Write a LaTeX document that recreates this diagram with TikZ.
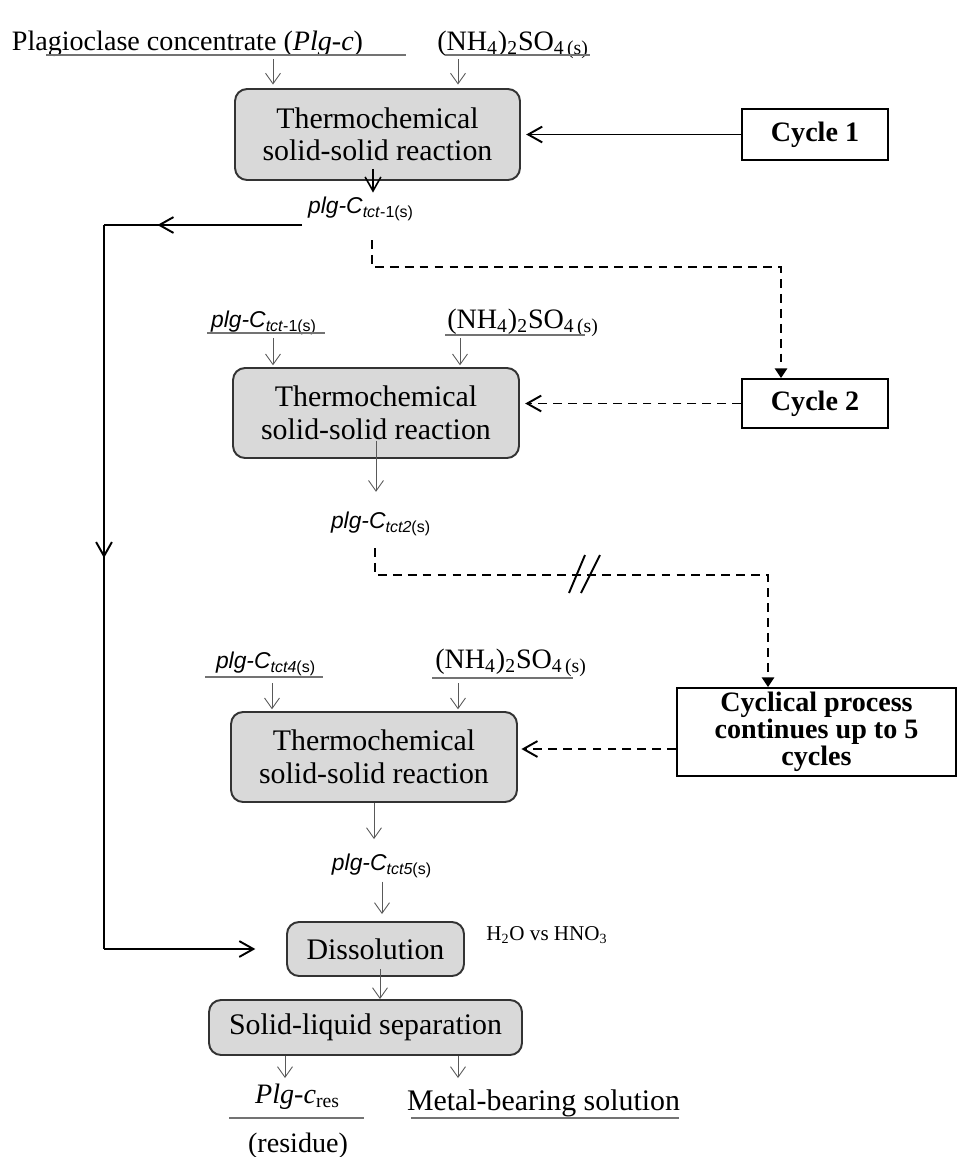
\documentclass[tikz,border=0pt]{standalone}
\usepackage{fontspec}
\setmainfont{Liberation Serif}
\setsansfont{Liberation Sans}
\usetikzlibrary{arrows.meta,calc,decorations.markings}

\newcommand{\boxfont}{\fontsize{17}{18.5}\selectfont}
\newcommand{\feedfont}{\fontsize{16}{18}\selectfont}
\newcommand{\plgc}[1]{\textsf{\textit{plg-C}\textsubscript{#1(s)}}}
\newcommand{\ams}{(NH\textsubscript{4})\textsubscript{2}SO\textsubscript{4\,(s)}}

\begin{document}
\begin{tikzpicture}[
        % one unit is one pixel of the reference
        x=0.02cm, y=-0.02cm,
        rxbox/.style={draw=black!80, line width=1.1pt, fill=black!15,
            rounded corners=0.24cm, align=center, font=\boxfont, inner sep=0pt},
        cyclebox/.style={draw, line width=1.1pt, fill=white, align=center,
            inner sep=0pt, font=\bfseries\fontsize{16}{15.5}\selectfont},
        feedlbl/.style={font=\feedfont, inner sep=2pt, anchor=base},
        prodlbl/.style={font=\fontsize{13}{15}\selectfont, inner sep=2pt, anchor=base},
        uline/.style={draw=black!55, line width=0.6pt},
        feed/.style={draw=black!65, line width=0.5pt, -{Straight Barb[length=6pt,width=8.5pt]}},
        boldarr/.style={line width=1.1pt, -{Straight Barb[length=8pt,width=9pt]}},
        dashline/.style={line width=1.1pt, dash pattern=on 5pt off 3.5pt},
        dasharr/.style={dashline, -{Straight Barb[length=8pt,width=9pt]}},
        droparr/.style={dashline, -{Triangle[length=5.5pt,width=7pt]}},
        midarrow/.style={postaction={decorate, decoration={markings,
            mark=at position #1 with {\arrow{Straight Barb[length=8pt,width=9pt]}}}}}
    ]
    \useasboundingbox (0,0) rectangle (958,1157);

    % reaction boxes
    \node[rxbox, minimum width=5.7cm, minimum height=1.82cm] (rx1) at (377.5,134.5)
        {Thermochemical\\solid-solid reaction};
    \node[rxbox, minimum width=5.72cm, minimum height=1.8cm] (rx2) at (376,413)
        {Thermochemical\\solid-solid reaction};
    \node[rxbox, minimum width=5.72cm, minimum height=1.8cm] (rx3) at (374,757)
        {Thermochemical\\solid-solid reaction};
    \node[rxbox, minimum width=3.54cm, minimum height=1.08cm] (diss) at (375.5,949) {Dissolution};
    \node[rxbox, minimum width=6.26cm, minimum height=1.1cm] (sep) at (365.5,1027.5)
        {Solid-liquid separation};

    % cycle boxes
    \node[cyclebox, minimum width=2.92cm, minimum height=1.02cm] (cyc1) at (815,134.5) {Cycle 1};
    \node[cyclebox, minimum width=2.92cm, minimum height=0.98cm] (cyc2) at (815,403.5) {Cycle 2};
    \node[cyclebox, minimum width=5.58cm, minimum height=1.76cm] (cyc3) at (816.5,732)
        {Cyclical process\\continues up to 5\\cycles};

    % feeds and products
    \node[feedlbl] (plgc) at (187.5,50) {Plagioclase concentrate (\textit{Plg-c})};
    \node[feedlbl] (ams1) at (513,50) {\ams};
    \node[prodlbl] (in2) at (264,327) {\plgc{\textit{tct}-1}};
    \node[feedlbl] (ams2) at (523,328) {\ams};
    \node[prodlbl] (in3) at (266,668) {\plgc{\textit{tct4}}};
    \node[feedlbl] (ams3) at (511,668) {\ams};
    \node[prodlbl] (p1) at (361,213) {\plgc{\textit{tct}-1}};
    \node[prodlbl] (p2) at (381,528) {\plgc{\textit{tct2}}};
    \node[prodlbl] (p5) at (382,870) {\plgc{\textit{tct5}}};
    \node[font=\fontsize{12}{14}\selectfont, inner sep=0pt, anchor=base west] (acid) at (486,940)
        {H\textsubscript{2}O vs HNO\textsubscript{3}};
    \node[feedlbl] (res) at (297.5,1103) {\textit{Plg-c}\textsubscript{res}};
    \node[feedlbl] (resname) at (298,1152) {(residue)};
    \node[feedlbl, font=\fontsize{17}{19}\selectfont] (sol) at (543.5,1110) {Metal-bearing solution};

    % underlines
    \draw[uline] (46,55) -- (406,55);
    \draw[uline] (445,55) -- (590,55);
    \draw[uline] (207,333) -- (325,333);
    \draw[uline] (445,335) -- (585,335);
    \draw[uline] (205,677) -- (323,677);
    \draw[uline] (432,678) -- (573,678);
    \draw[uline] (229,1118) -- (364,1118);
    \draw[uline] (411,1118) -- (679,1118);

    % feed arrows into the boxes
    \coordinate (f1a) at (273,59);
    \coordinate (f1b) at (458,59);
    \coordinate (f2a) at (273,338);
    \coordinate (f2b) at (460,338);
    \coordinate (f3a) at (272,683);
    \coordinate (f3b) at (458,683);
    \draw[feed, shorten >=2pt] (f1a) -- (f1a |- rx1.north);
    \draw[feed, shorten >=2pt] (f1b) -- (f1b |- rx1.north);
    \draw[feed, shorten >=1pt] (f2a) -- (f2a |- rx2.north);
    \draw[feed, shorten >=1pt] (f2b) -- (f2b |- rx2.north);
    \draw[feed, shorten >=1pt] (f3a) -- (f3a |- rx3.north);
    \draw[feed, shorten >=1pt] (f3b) -- (f3b |- rx3.north);

    % product arrows
    \coordinate (o1) at ($(rx1.south)+(-4.5,-12)$);
    \draw[boldarr, line width=0.9pt] (o1) -- (o1 |- p1.north);
    \coordinate (o2) at ($(rx2.south)+(0,-18)$);
    \draw[feed, shorten >=9pt] (o2) -- (o2 |- p2.north);
    \draw[feed, shorten >=6pt] (rx3.south) -- (rx3.south |- p5.north);
    \draw[feed, shorten >=4pt] (p5.south) -- (p5.south |- diss.north);
    \coordinate (o4) at ($(diss.south)+(4.5,-8)$);
    \draw[feed] (o4) -- (o4 |- sep.north);
    \coordinate (s1) at (285,1056);
    \coordinate (s2) at (458,1056);
    \draw[feed] (s1) -- ++(0,22);
    \draw[feed] (s2) -- ++(0,22);

    % cycles feeding the reactions
    \draw[boldarr, shorten >=3pt] (cyc1.west) -- (cyc1.west -| rx1.east);
    \draw[dasharr, shorten >=3pt] (cyc2.west) -- (cyc2.west -| rx2.east);
    \coordinate (c3in) at ($(cyc3.west)+(0,17)$);
    \draw[dasharr, shorten >=2pt] (c3in) -- (c3in -| rx3.east);

    % product handed to the next cycle
    \coordinate (d1a) at (372,240);
    \coordinate (d1b) at (781,267);
    \draw[droparr] (d1a) |- (d1b) -- (d1b |- cyc2.north);
    \coordinate (d2a) at (375,548);
    \coordinate (d2b) at (768,575);
    \draw[droparr] (d2a) |- (d2b) -- (d2b |- cyc3.north);
    \draw[line width=1.1pt] (585,555) -- (569,593) (600,555) -- (581,593);

    % by-pass straight to dissolution
    \coordinate (la) at (302,225);
    \coordinate (lb) at (104,225);
    \coordinate (lc) at (104,949);
    \draw[line width=1.1pt, midarrow=0.73] (la) -- (lb);
    \draw[line width=1.1pt, midarrow=0.46] (lb) -- (lc);
    \draw[boldarr, shorten >=17.5pt] (lc) -- (diss.west);
\end{tikzpicture}
\end{document}
